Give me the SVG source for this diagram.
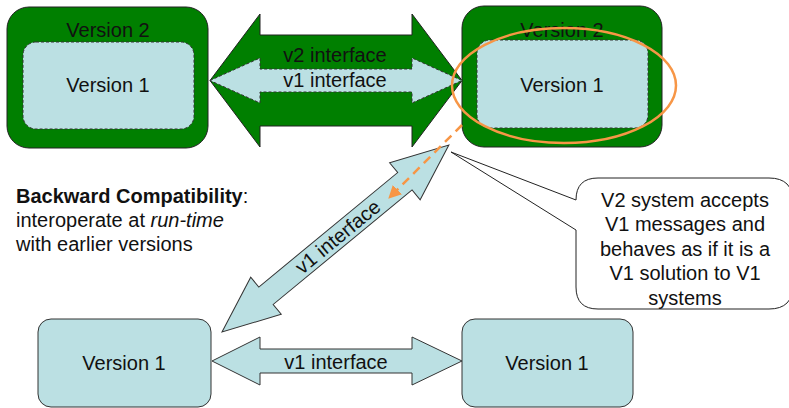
<svg xmlns="http://www.w3.org/2000/svg" width="789" height="408" viewBox="0 0 789 408">
<defs>
<style>
text{font-family:"Liberation Sans",Arial,sans-serif;font-size:20px;fill:#111;}
.c{text-anchor:middle;}
.v2{fill:#007f00;stroke:#222;stroke-width:1;}
.v1{fill:#bbe0e3;stroke:#333;stroke-width:1;}
.dash{stroke-dasharray:3 2;}
.orange{fill:none;stroke:#f79646;stroke-width:2.5;}
</style>
<marker id="oh" viewBox="0 0 12 12" refX="11" refY="6" markerWidth="13" markerHeight="13" markerUnits="userSpaceOnUse" orient="auto">
<path d="M0,0 L12,6 L0,12 z" fill="#f79646"/>
</marker>
</defs>
<rect width="789" height="408" fill="#fff"/>

<g id="node-top-left">
<rect class="v2" x="7" y="7" width="201" height="141" rx="22"/>
<text class="c" x="108" y="37">Version 2</text>
<rect class="v1 dash" x="23" y="42" width="171" height="87" rx="13"/>
<text class="c" x="108" y="92">Version 1</text>
</g>

<g id="node-top-right">
<rect class="v2" x="462" y="6" width="200" height="141" rx="22"/>
<text class="c" x="562" y="37">Version 2</text>
<rect class="v1 dash" x="477" y="40" width="171" height="88" rx="13"/>
<text class="c" x="562" y="92">Version 1</text>
</g>

<g id="node-bottom-left">
<rect class="v1" x="38" y="319" width="173" height="88" rx="13"/>
<text class="c" x="124" y="370">Version 1</text>
</g>

<g id="node-bottom-right">
<rect class="v1" x="462" y="319" width="171" height="88" rx="13"/>
<text class="c" x="547" y="370">Version 1</text>
</g>

<g id="connectors">
<polygon class="v2" points="210,80.5 260,14 260,35 412,35 412,14 462,80.5 412,147 412,126 260,126 260,147"/>
<polygon class="v1 dash" points="210,80.5 260,58 260,69 412,69 412,58 462,80.5 412,103 412,92 260,92 260,103"/>
<text class="c" x="335" y="62">v2 interface</text>
<text class="c" x="335" y="87">v1 interface</text>

<polygon class="v1" points="212,361 260,337 260,349 412,349 412,337 462,361 412,385 412,373 260,373 260,385"/>
<text class="c" x="336" y="369">v1 interface</text>

<g transform="translate(222,332) rotate(-39.5)">
<polygon class="v1" points="0,0 57,-24 57,-11.3 237,-11.3 237,-24 294,0 237,24 237,11.3 57,11.3 57,24"/>
<text class="c" x="150" y="7">v1 interface</text>
</g>

<line class="orange" x1="462" y1="125" x2="389" y2="198" stroke-dasharray="9 6" marker-end="url(#oh)"/>
</g>

<g id="highlight">
<ellipse class="orange" cx="564" cy="85.5" rx="112" ry="57.5"/>
</g>

<g id="callout">
<path d="M598,178 L769,178 Q793,178 793,202 L793,285 Q793,309 769,309 L598,309 Q576,309 576,287 L576,230 L451,152 L576,200 Q576,178 598,178 Z" fill="#fff" stroke="#222" stroke-width="1"/>
<text class="c" x="685" y="207">V2 system accepts</text>
<text class="c" x="685" y="231">V1 messages and</text>
<text class="c" x="685" y="256">behaves as if it is a</text>
<text class="c" x="685" y="280">V1 solution to V1</text>
<text class="c" x="685" y="305">systems</text>
</g>

<g id="note">
<text x="16" y="203"><tspan font-weight="bold">Backward Compatibility</tspan>:</text>
<text x="16" y="227">interoperate at <tspan font-style="italic">run-time</tspan></text>
<text x="16" y="251">with earlier versions</text>
</g>
</svg>
